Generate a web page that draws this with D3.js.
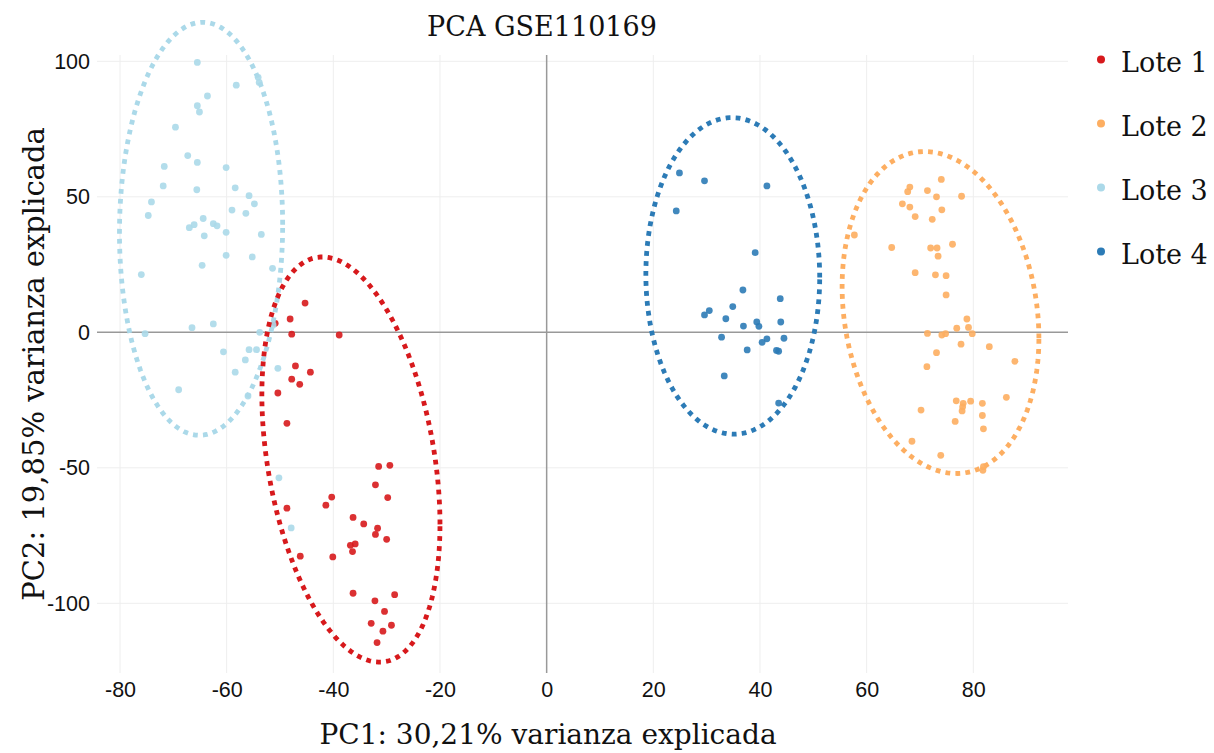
<!DOCTYPE html>
<html>
<head>
<meta charset="utf-8">
<script src="https://cdn.jsdelivr.net/npm/d3@7"></script>
<style>
  html, body { margin: 0; padding: 0; background: #fff; }
  svg { display: block; }
</style>
</head>
<body>
<svg id="chart" width="1214" height="753"></svg>
<script>
// ---------- data ----------
const title = "PCA GSE110169";
const xTitle = "PC1: 30,21% varianza explicada";
const yTitle = "PC2: 19,85% varianza explicada";
const groups = ["Lote 1", "Lote 2", "Lote 3", "Lote 4"];
const colors = ["#d7191c", "#fdae61", "#abd9e9", "#2c7bb6"];
const xTicks = [-80, -60, -40, -20, 0, 20, 40, 60, 80];
const yTicks = [-100, -50, 0, 50, 100];

const lote1 = [
  [-45.3, 10.8], [-48.1, 4.9], [-47.8, -0.7], [-38.9, -1.0], [-50.9, 3.3],
  [-47.1, -12.4], [-44.3, -14.7], [-47.8, -17.3], [-46.3, -19.2], [-50.4, -22.4],
  [-48.7, -33.6], [-31.5, -49.5], [-29.4, -49.1], [-32.1, -56.3], [-29.8, -61.0],
  [-40.3, -60.8], [-41.4, -63.8], [-48.7, -64.9], [-36.3, -68.3], [-34.3, -70.7],
  [-31.7, -72.3], [-32.1, -74.6], [-30.0, -76.4], [-36.8, -78.6], [-35.9, -78.1],
  [-36.4, -80.9], [-46.2, -82.6], [-40.1, -82.9], [-36.3, -96.3], [-28.5, -96.8],
  [-32.2, -99.1], [-30.4, -103.0], [-32.9, -107.4], [-29.1, -108.1], [-30.7, -110.3],
  [-31.8, -114.5]
];
const lote2 = [
  [74.0, 56.4], [68.1, 53.6], [67.7, 51.9], [71.4, 52.3], [73.1, 50.0],
  [77.8, 50.2], [66.7, 47.4], [68.1, 46.2], [74.1, 45.2], [69.1, 42.7],
  [72.3, 41.7], [57.7, 35.9], [64.7, 31.3], [72.0, 31.1], [73.2, 31.1],
  [76.1, 32.5], [73.4, 28.1], [69.1, 22.0], [72.9, 21.2], [74.9, 20.9],
  [74.9, 13.8], [78.8, 4.9], [79.1, 1.8], [76.9, 1.5], [71.4, -0.4],
  [74.1, -1.0], [74.8, -0.5], [79.8, -0.5], [77.7, -4.4], [83.0, -5.3],
  [73.1, -7.5], [87.8, -10.7], [71.3, -12.7], [86.2, -24.0], [76.8, -25.3],
  [78.1, -26.2], [79.5, -25.4], [81.7, -26.2], [78.0, -27.5], [77.9, -29.0],
  [70.2, -28.7], [81.7, -30.7], [76.6, -32.9], [81.9, -35.6], [68.5, -40.2],
  [73.9, -45.4], [81.9, -49.6], [81.8, -50.9]
];
const lote3 = [
  [-65.5, 99.6], [-54.1, 94.1], [-53.9, 92.2], [-58.2, 91.2], [-63.6, 87.2],
  [-65.5, 83.6], [-65.1, 81.3], [-69.6, 75.7], [-67.3, 65.2], [-71.7, 61.2],
  [-65.5, 62.7], [-60.1, 60.8], [-71.9, 54.0], [-65.6, 52.6], [-58.4, 53.3],
  [-55.8, 50.4], [-54.8, 47.4], [-74.1, 48.1], [-74.7, 43.1], [-59.0, 45.1],
  [-56.4, 43.9], [-64.4, 42.0], [-67.0, 38.6], [-66.1, 39.7], [-62.5, 40.1],
  [-61.8, 39.3], [-64.2, 35.6], [-60.1, 36.9], [-53.5, 36.1], [-60.1, 28.4],
  [-55.2, 27.8], [-64.6, 24.7], [-76.0, 21.3], [-51.4, 23.6], [-53.8, 0.0],
  [-51.3, 2.7], [-75.3, -0.5], [-66.5, 1.7], [-62.5, 3.1], [-60.6, -7.2],
  [-55.8, -6.4], [-54.4, -6.4], [-56.5, -10.2], [-58.4, -14.7], [-50.4, -13.3],
  [-69.0, -21.2], [-56.0, -23.5], [-50.2, -53.7], [-47.9, -72.2]
];
const lote4 = [
  [24.9, 58.8], [29.6, 55.9], [41.3, 54.0], [24.3, 44.8], [39.1, 29.4],
  [36.8, 15.6], [43.8, 12.4], [34.9, 9.5], [29.6, 6.4], [30.5, 8.0],
  [33.6, 5.0], [36.9, 2.3], [39.4, 3.8], [39.8, 2.2], [43.9, 3.8],
  [32.8, -1.8], [41.3, -2.4], [40.4, -3.7], [44.5, -2.2], [37.6, -6.5],
  [43.1, -6.7], [43.5, -7.0], [33.3, -16.1], [43.5, -26.1]
];
const seriesPoints = [lote1, lote2, lote3, lote4];

// ellipse parameters per group: centre x, centre y, half-width x, half-height y, correlation
const ellCx = [-36.7, 73.85, -64.8, 34.9];
const ellCy = [-46.95, 7.3, 38.2, 20.8];
const ellSx = [16.7, 18.45, 15.3, 16.3];
const ellSy = [74.75, 59.4, 76.2, 58.4];
const ellRho = [-0.32, -0.16, 0.02, -0.01];

// ---------- layout ----------
const svg = d3.select("#chart");
const plotL = 97, plotR = 1068, plotT = 55, plotB = 673;

const x = d3.scaleLinear().domain([-80, 80]).range([120, 973.3]);
const y = d3.scaleLinear().domain([-100, 100]).range([603.3, 61.3]);

const serif = "'DejaVu Serif', Georgia, serif";
const sans = "'Liberation Sans', Arial, sans-serif";

// grid
const grid = svg.append("g");
grid.selectAll("line.gx").data(xTicks.filter(d => d !== 0)).join("line")
  .attr("x1", d => x(d)).attr("x2", d => x(d))
  .attr("y1", plotT).attr("y2", plotB)
  .attr("stroke", "#eeeeee").attr("stroke-width", 1);
grid.selectAll("line.gy").data(yTicks.filter(d => d !== 0)).join("line")
  .attr("y1", d => y(d)).attr("y2", d => y(d))
  .attr("x1", plotL).attr("x2", plotR)
  .attr("stroke", "#eeeeee").attr("stroke-width", 1);

// zero lines
svg.append("line").attr("x1", x(0)).attr("x2", x(0)).attr("y1", plotT).attr("y2", plotB)
  .attr("stroke", "#999").attr("stroke-width", 1.5);
svg.append("line").attr("y1", y(0)).attr("y2", y(0)).attr("x1", plotL).attr("x2", plotR)
  .attr("stroke", "#999").attr("stroke-width", 1.5);

// axes tick labels via d3 axes
const fmt = d => String(d);
const xAxis = d3.axisBottom(x).tickValues(xTicks).tickSize(0).tickPadding(0).tickFormat(fmt);
const gx = svg.append("g").attr("transform", `translate(0,${plotB + 24})`).call(xAxis);
gx.select(".domain").remove();
gx.selectAll("text").attr("font-family", sans).attr("font-size", 21.5).attr("fill", "#111").attr("dy", 0);

const yAxis = d3.axisLeft(y).tickValues(yTicks).tickSize(0).tickPadding(0).tickFormat(fmt);
const gy = svg.append("g").attr("transform", `translate(90,0)`).call(yAxis);
gy.select(".domain").remove();
gy.selectAll("text").attr("font-family", sans).attr("font-size", 21.5).attr("fill", "#111");

// points
const pts = svg.append("g");
seriesPoints.forEach((arr, i) => {
  pts.append("g").selectAll("circle").data(arr).join("circle")
    .attr("cx", d => x(d[0])).attr("cy", d => y(d[1]))
    .attr("r", 3.4)
    .attr("fill", colors[i]).attr("opacity", 0.9);
});

// ellipses
const ts = d3.range(0, 361, 2).map(a => a * Math.PI / 180);
const line = d3.line().x(d => x(d[0])).y(d => y(d[1]));
const ellOrder = [2, 3, 1, 0];
ellOrder.forEach(i => {
  const r = ellRho[i], q = Math.sqrt(1 - r * r);
  const path = ts.map(t => [ellCx[i] + ellSx[i] * Math.cos(t),
                            ellCy[i] + ellSy[i] * (r * Math.cos(t) + q * Math.sin(t))]);
  svg.append("path").attr("d", line(path))
    .attr("fill", "none").attr("stroke", colors[i])
    .attr("stroke-width", 4.8).attr("stroke-dasharray", "4.8,5.2");
});

// title
svg.append("text").attr("x", 542).attr("y", 36).attr("text-anchor", "middle")
  .attr("font-family", serif).attr("font-size", 27).attr("fill", "#111").text(title);

// axis titles
svg.append("text").attr("x", 548).attr("y", 744).attr("text-anchor", "middle")
  .attr("font-family", serif).attr("font-size", 28).attr("fill", "#111").text(xTitle);
svg.append("text").attr("transform", "translate(44,364) rotate(-90)").attr("text-anchor", "middle")
  .attr("font-family", serif).attr("font-size", 29).attr("fill", "#111").text(yTitle);

// legend
const lg = svg.append("g");
groups.forEach((g, i) => {
  const yy = 71.5 + i * 64;
  lg.append("circle").attr("cx", 1101).attr("cy", yy - 12).attr("r", 4).attr("fill", colors[i]);
  lg.append("text").attr("x", 1121).attr("y", yy).attr("font-family", serif)
    .attr("font-size", 27).attr("fill", "#111").text(g);
});
</script>
</body>
</html>
